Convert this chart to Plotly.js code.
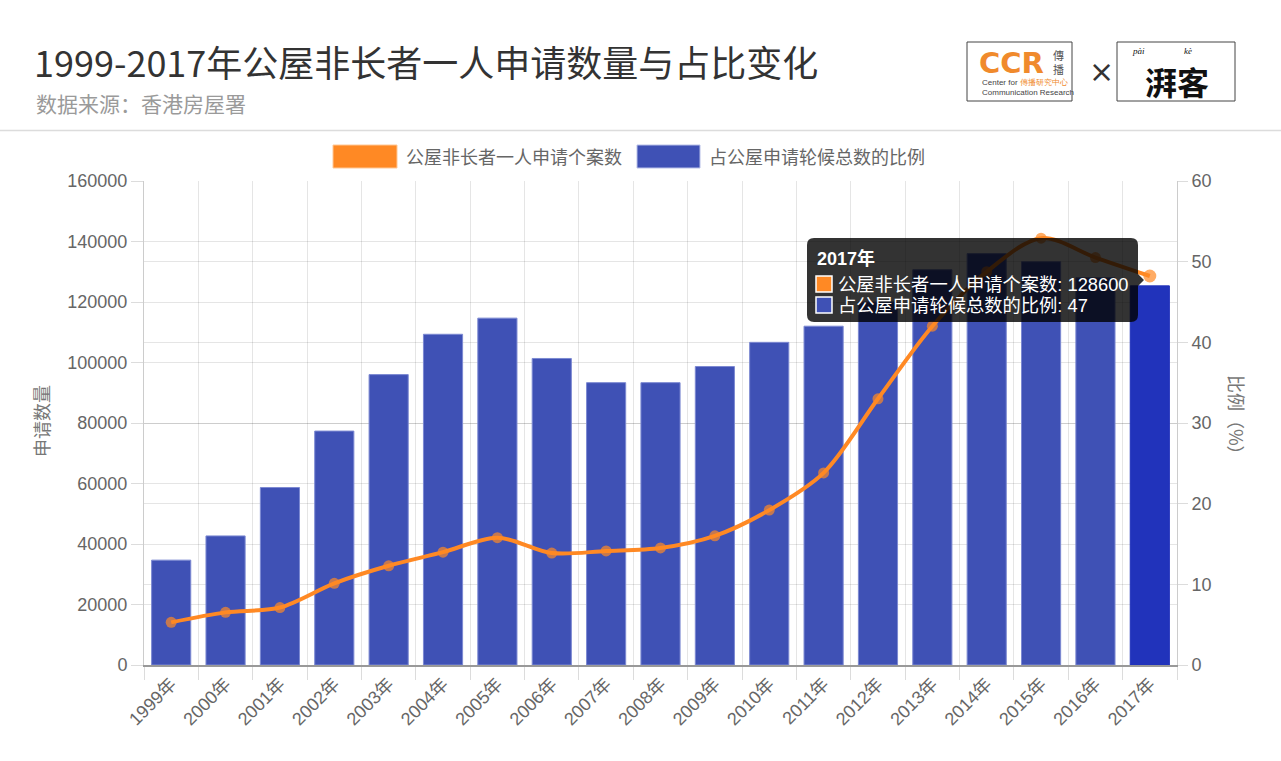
<!DOCTYPE html>
<html>
<head>
<meta charset="utf-8">
<script src="https://cdn.plot.ly/plotly-3.0.1.min.js"></script>
<style>
html,body{margin:0;padding:0;background:#fff;}
#chart{width:1281px;height:761px;}
</style>
</head>
<body>
<div id="chart"></div>
<script>
// ---- data ----
const years = ['1999年','2000年','2001年','2002年','2003年','2004年','2005年','2006年','2007年','2008年','2009年','2010年','2011年','2012年','2013年','2014年','2015年','2016年','2017年'];
const cases = [14100, 17400, 19000, 27000, 32800, 37300, 42100, 37000, 37700, 38700, 42700, 51200, 63500, 88000, 112000, 130000, 141100, 134700, 128600];
const ratio = [13, 16, 22, 29, 36, 41, 43, 38, 35, 35, 37, 40, 42, 45, 49, 51, 50, 48, 47];
const leftTicks = [0, 20000, 40000, 60000, 80000, 100000, 120000, 140000, 160000];
const rightTicks = [0, 10, 20, 30, 40, 50, 60];
const seriesNames = ['公屋非长者一人申请个案数', '占公屋申请轮候总数的比例'];
const titleText = '1999-2017年公屋非长者一人申请数量与占比变化';
const sourceText = '数据来源：香港房屋署';
const leftAxisTitle = '申请数量';
const rightAxisTitle = '比例（%）';

// ---- layout geometry ----
const W = 1281, H = 761;
const L = 144, R = 1177, T = 181, B = 665;
const px = x => (x - L) / (R - L);
const py = y => (B - y) / (B - T);

const ORANGE = 'rgb(255,137,36)';
const BLUE = '#3f51b5';
const BLUE_HOVER = '#2133bb';
const GRID = 'rgba(0,0,0,0.1)';
const TICKFONT = 'Liberation Sans, Arial, Noto Sans CJK SC, sans-serif';
const CJK = 'Noto Sans CJK SC, sans-serif';

const last = years.length - 1;

const barTrace = {
  type: 'bar',
  name: seriesNames[1],
  x: years,
  y: ratio,
  yaxis: 'y',
  xaxis: 'x',
  marker: {
    color: years.map((_, i) => i === last ? BLUE_HOVER : BLUE),
    line: {color: years.map((_, i) => i === last ? BLUE_HOVER : '#7c89d2'), width: 1}
  },
  hoverinfo: 'skip'
};

const lineTrace = {
  type: 'scatter',
  mode: 'lines+markers',
  name: seriesNames[0],
  x: years,
  y: cases,
  yaxis: 'y2',
  xaxis: 'x',
  line: {color: ORANGE, width: 4, shape: 'spline', smoothing: 0.9},
  marker: {color: ORANGE, size: years.map((_, i) => i === last ? 13 : 11), line: {width: 0}},
  hoverinfo: 'skip'
};

function rrect(x0, y0, x1, y1, r) {
  const X = v => px(v), Y = v => py(v);
  return `M${X(x0 + r)},${Y(y0)} L${X(x1 - r)},${Y(y0)} Q${X(x1)},${Y(y0)} ${X(x1)},${Y(y0 + r)} ` +
         `L${X(x1)},${Y(274)} L${X(x1 + 6)},${Y(280)} L${X(x1)},${Y(286)} ` +
         `L${X(x1)},${Y(y1 - r)} Q${X(x1)},${Y(y1)} ${X(x1 - r)},${Y(y1)} ` +
         `L${X(x0 + r)},${Y(y1)} Q${X(x0)},${Y(y1)} ${X(x0)},${Y(y1 - r)} ` +
         `L${X(x0)},${Y(y0 + r)} Q${X(x0)},${Y(y0)} ${X(x0 + r)},${Y(y0)} Z`;
}

const shapes = [
  // header separator
  {type: 'line', xref: 'paper', yref: 'paper', x0: px(0), x1: px(W), y0: py(130.5), y1: py(130.5),
   line: {color: '#dcdcdc', width: 1.5}},
  // logo boxes
  {type: 'rect', xref: 'paper', yref: 'paper', x0: px(967), x1: px(1072), y0: py(42), y1: py(101),
   line: {color: '#444', width: 1}, fillcolor: '#fff'},
  {type: 'rect', xref: 'paper', yref: 'paper', x0: px(1117), x1: px(1235), y0: py(42), y1: py(101),
   line: {color: '#444', width: 1}, fillcolor: '#fff'},
  // legend swatches
  {type: 'rect', xref: 'paper', yref: 'paper', x0: px(333), x1: px(397), y0: py(145), y1: py(168),
   fillcolor: ORANGE, line: {color: 'rgba(255,200,150,1)', width: 1}},
  {type: 'rect', xref: 'paper', yref: 'paper', x0: px(637), x1: px(700), y0: py(145), y1: py(168),
   fillcolor: BLUE, line: {color: '#b8c0e8', width: 1}},
  // tooltip box
  {type: 'path', xref: 'paper', yref: 'paper', layer: 'above', path: rrect(807, 238, 1138, 322, 7),
   fillcolor: 'rgba(0,0,0,0.8)', line: {width: 0}},
  {type: 'rect', xref: 'paper', yref: 'paper', layer: 'above', x0: px(816), x1: px(832), y0: py(276), y1: py(292),
   fillcolor: ORANGE, line: {color: '#fff', width: 1.5}},
  {type: 'rect', xref: 'paper', yref: 'paper', layer: 'above', x0: px(816), x1: px(832), y0: py(297), y1: py(313),
   fillcolor: BLUE, line: {color: '#fff', width: 1.5}}
];

const ann = (x, y, text, opts) => Object.assign({
  xref: 'paper', yref: 'paper', x: px(x), y: py(y), text: text, showarrow: false,
  xanchor: 'left', yanchor: 'middle'
}, opts || {});

const annotations = [
  ann(34, 103, sourceText, {font: {family: CJK, size: 21, color: '#9a9a9a'}}),
  // legend labels
  ann(404, 156, seriesNames[0], {font: {family: CJK, size: 18, color: '#666'}}),
  ann(707, 156, seriesNames[1], {font: {family: CJK, size: 18, color: '#666'}}),
  // axis titles
  ann(41, 421, leftAxisTitle, {xanchor: 'center', textangle: -90, font: {family: CJK, size: 18, color: '#777'}}),
  ann(1237, 419, rightAxisTitle, {xanchor: 'center', textangle: 90, font: {family: CJK, size: 18, color: '#777'}}),
  // tooltip text
  ann(815, 258, '<b>' + years[last] + '</b>', {font: {family: TICKFONT, size: 18, color: '#fff'}}),
  ann(836, 284, seriesNames[0] + ': ' + cases[last], {font: {family: TICKFONT, size: 18.3, color: '#fff'}}),
  ann(836, 305, seriesNames[1] + ': ' + ratio[last], {font: {family: TICKFONT, size: 18.3, color: '#fff'}}),
  // logos (text approximations)
  ann(977, 63, '<b>CCR</b>', {font: {family: 'DejaVu Sans, sans-serif', size: 29, color: '#f08a2c'}}),
  ann(1058, 62, '傳<br>播', {xanchor: 'center', font: {family: CJK, size: 11, color: '#555'}}),
  ann(980, 83, 'Center for <span style="color:#f08a2c">傳播研究中心</span>', {font: {family: 'Liberation Sans, sans-serif', size: 8, color: '#444'}}),
  ann(980, 92, 'Communication Research', {font: {family: 'Liberation Sans, sans-serif', size: 8, color: '#444'}}),
  ann(1101, 72, '×', {xanchor: 'center', font: {family: 'DejaVu Sans, sans-serif', size: 30, color: '#333'}}),
  ann(1177, 81, '<b>湃</b><b>客</b>', {xanchor: 'center', font: {family: CJK, size: 32, color: '#111'}, borderpad: 0}),
  ann(1138, 51, '<i>pài</i>', {xanchor: 'center', font: {family: 'Liberation Serif, serif', size: 9, color: '#111'}, borderpad: 0}),
  ann(1188, 51, '<i>kè</i>', {xanchor: 'center', font: {family: 'Liberation Serif, serif', size: 9, color: '#111'}, borderpad: 0})
];

const layout = {
  width: W, height: H,
  margin: {l: L, r: W - R, t: T, b: H - B, pad: 0},
  paper_bgcolor: '#fff', plot_bgcolor: '#fff',
  showlegend: false,
  hovermode: false,
  bargap: 0.28,
  title: {
    text: titleText, xref: 'container', yref: 'container',
    x: 34 / W, xanchor: 'left', y: 1 - 64 / H, yanchor: 'middle',
    font: {family: CJK, size: 36, color: '#333'}
  },
  xaxis: {
    type: 'category',
    range: [-0.5, years.length - 0.5],
    autorange: false,
    tickson: 'boundaries',
    ticks: 'outside', ticklen: 13, tickcolor: '#dcdcdc', tickwidth: 1,
    showgrid: true, gridcolor: GRID, gridwidth: 1,
    showline: true, linecolor: '#999', linewidth: 1.5,
    tickangle: -45,
    tickfont: {family: TICKFONT, size: 18, color: '#666'},
    automargin: false
  },
  yaxis: {
    side: 'right',
    range: [0, 60],
    tickvals: rightTicks,
    ticktext: rightTicks.map(String),
    ticks: 'outside', ticklen: 10, tickcolor: '#dcdcdc',
    showgrid: true, gridcolor: GRID, gridwidth: 1,
    zeroline: false,
    showline: true, linecolor: '#ccc', linewidth: 1,
    tickfont: {family: TICKFONT, size: 18, color: '#666'},
    automargin: false
  },
  yaxis2: {
    overlaying: 'y',
    side: 'left',
    range: [0, 160000],
    tickvals: leftTicks,
    ticktext: leftTicks.map(String),
    ticks: 'outside', ticklen: 12, tickcolor: '#dcdcdc',
    showgrid: true, gridcolor: GRID, gridwidth: 1,
    zeroline: false,
    showline: true, linecolor: '#ccc', linewidth: 1,
    tickfont: {family: TICKFONT, size: 18, color: '#666'},
    automargin: false
  },
  shapes: shapes,
  annotations: annotations
};

Plotly.newPlot('chart', [barTrace, lineTrace], layout, {displayModeBar: false, staticPlot: true});
</script>
</body>
</html>
